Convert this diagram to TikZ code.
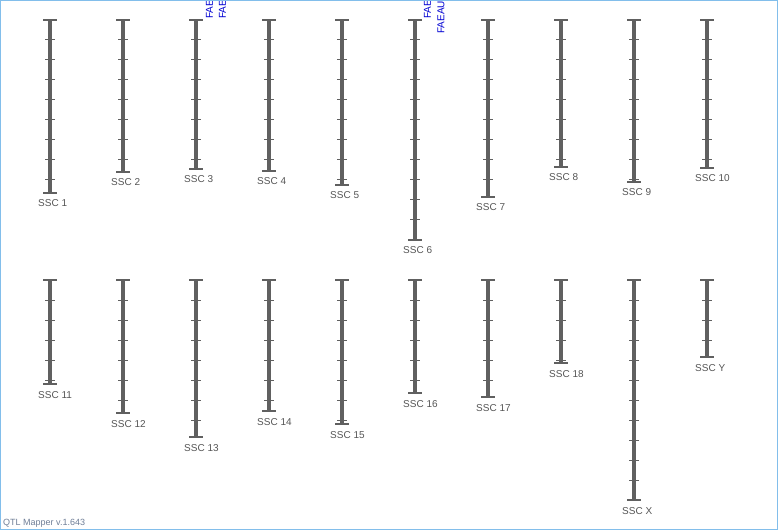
\documentclass[tikz,border=0pt]{standalone}
\usepackage{fontspec}
\setmainfont{Liberation Sans}
\definecolor{barcol}{RGB}{96,96,96}
\definecolor{labcol}{RGB}{85,85,85}
\definecolor{framecol}{RGB}{130,190,235}
\definecolor{qtlblue}{RGB}{0,0,210}
\definecolor{footcol}{RGB}{110,125,150}
\tikzset{
  chrbar/.style={line width=4.5bp, draw=barcol},
  chrcap/.style={line width=1.5bp, draw=barcol},
  chrtick/.style={line width=1bp, draw=barcol},
  chrlabel/.style={anchor=base west, inner sep=0pt, text=labcol, font=\fontsize{10bp}{12bp}\selectfont},
  qtllabel/.style={rotate=90, anchor=west, inner sep=0pt, text=qtlblue, font=\fontsize{10bp}{12bp}\selectfont},
  footer/.style={anchor=base west, inner sep=0pt, text=footcol, font=\fontsize{9bp}{11bp}\selectfont},
  frame/.style={draw=framecol, line width=1bp}
}
\begin{document}
\begin{tikzpicture}[x=1bp, y=-1bp]
\useasboundingbox (0,0) rectangle (778,530);
\begin{scope}
\clip (0,0) rectangle (778,530);
% chromosomes: x / top / bottom / label / name
\foreach \cx/\top/\bot/\lab/\nm in {
  50/20/193/SSC 1/c1, 123/20/172/SSC 2/c2, 196/20/169/SSC 3/c3,
  269/20/171/SSC 4/c4, 342/20/185/SSC 5/c5, 415/20/240/SSC 6/c6,
  488/20/197/SSC 7/c7, 561/20/167/SSC 8/c8, 634/20/182/SSC 9/c9,
  707/20/168/SSC 10/c10,
  50/280/384/SSC 11/c11, 123/280/413/SSC 12/c12, 196/280/437/SSC 13/c13,
  269/280/411/SSC 14/c14, 342/280/424/SSC 15/c15, 415/280/393/SSC 16/c16,
  488/280/397/SSC 17/c17, 561/280/363/SSC 18/c18, 634/280/500/SSC X/cx,
  707/280/357/SSC Y/cy}{
  \coordinate (\nm top) at (\cx,\top);
  \coordinate (\nm bot) at (\cx,\bot);
  \draw[chrbar] (\nm top) -- (\nm bot);
  \draw[chrcap] ([xshift=-7bp]\nm top) -- ([xshift=7bp]\nm top);
  \draw[chrcap] ([xshift=-7bp]\nm bot) -- ([xshift=7bp]\nm bot);
  \pgfmathtruncatemacro{\nt}{floor((\bot-\top-1)/20)}
  \ifnum\nt>0
    \foreach \k in {1,...,\nt}{
      \draw[chrtick] (\cx-5,\top+20*\k) -- (\cx+5,\top+20*\k);
    }
  \fi
  \node[chrlabel] (\nm lab) at (\cx-12,\bot+14) {\lab};
}
% QTL labels (clipped at the top edge)
\node[qtllabel] (q1) at (209.5,19) {FAEAUR};
\node[qtllabel] (q2) at (222.5,19) {FAEAUR};
\node[qtllabel] (q3) at (427.5,19) {FAEAUR};
\node[qtllabel] (q4) at (441,34) {FAEAUR};
\end{scope}
\node[footer] (foot) at (3,525) {QTL Mapper v.1.643};
\draw[frame] (0.5,0.5) rectangle (777.5,529.5);
\end{tikzpicture}
\end{document}
